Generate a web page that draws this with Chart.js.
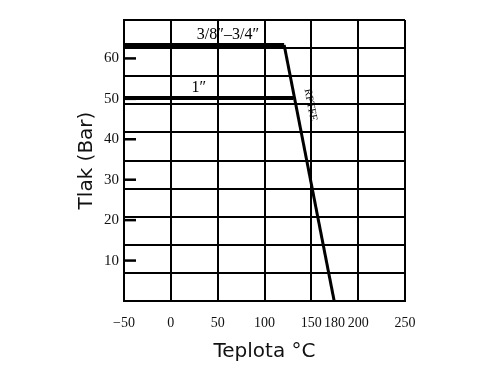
<!DOCTYPE html>
<html>
<head>
<meta charset="utf-8">
<script src="https://cdn.jsdelivr.net/npm/chart.js@4"></script>
<style>
  html, body { margin: 0; padding: 0; background: #fff; }
  #wrap { width: 500px; height: 375px; }
</style>
</head>
<body>
<div id="wrap"><canvas id="myChart" width="500" height="375"></canvas></div>
<script>
// values
let xTicks = [-50, 0, 50, 100, 150, 180, 200, 250];
let yTicks = [10, 20, 30, 40, 50, 60];
let yMax = 69.5;
let gridRows = 10;

let smallX = [-50, 121, 174.4];
let smallY = [63.3, 63.3, 0];
let bigX = [-50, 131];
let bigY = [50.2, 50.2];

let notes = [
  { text: "3/8″–3/4″", x: 61, y: 65.9, size: 16, rot: 0 },
  { text: "1″", x: 30, y: 52.8, size: 16, rot: 0 },
  { text: "RPTFE", x: 149, y: 48.5, size: 11, rot: 79 }
];

function points(xs, ys) {
  return xs.map((x, i) => ({ x: x, y: ys[i] }));
}

const serif = "'Liberation Serif', 'DejaVu Serif', serif";
const sans = "'DejaVu Sans', Verdana, sans-serif";

// short tick marks inside the box + the text on the lines
const extras = {
  id: "extras",
  afterDatasetsDraw(chart) {
    const ctx = chart.ctx;
    const xs = chart.scales.x;
    const ys = chart.scales.y;
    const left = chart.chartArea.left;
    ctx.save();
    ctx.strokeStyle = "#000";
    ctx.lineWidth = 2.5;
    yTicks.forEach(v => {
      let py = ys.getPixelForValue(v);
      ctx.beginPath();
      ctx.moveTo(left, py);
      ctx.lineTo(left + 12, py);
      ctx.stroke();
    });
    ctx.fillStyle = "#000";
    ctx.textAlign = "center";
    ctx.textBaseline = "middle";
    notes.forEach(n => {
      ctx.save();
      ctx.translate(xs.getPixelForValue(n.x), ys.getPixelForValue(n.y));
      ctx.rotate(n.rot * Math.PI / 180);
      ctx.font = n.size + "px " + serif;
      ctx.fillText(n.text, 0, 0);
      ctx.restore();
    });
    ctx.restore();
  }
};

new Chart(document.getElementById("myChart"), {
  type: "line",
  data: {
    datasets: [
      {
        label: "3/8-3/4",
        data: points(smallX, smallY),
        borderColor: "#000",
        borderWidth: 4,
        pointRadius: 0,
        tension: 0,
        segment: { borderWidth: c => c.p0DataIndex === 1 ? 3 : 4 }
      },
      {
        label: "1",
        data: points(bigX, bigY),
        borderColor: "#000",
        borderWidth: 4,
        pointRadius: 0,
        tension: 0
      }
    ]
  },
  options: {
    responsive: false,
    animation: false,
    layout: { padding: { top: 20, right: 95, left: 0, bottom: 0 } },
    plugins: { legend: { display: false }, tooltip: { enabled: false } },
    scales: {
      x: {
        type: "linear",
        min: -50,
        max: 250,
        afterBuildTicks: s => { s.ticks = xTicks.map(v => ({ value: v })); },
        afterFit: s => { s.height = 74; },
        grid: {
          color: c => (c.tick && c.tick.value === 180) ? "rgba(0,0,0,0)" : "#000",
          lineWidth: 2,
          drawTicks: false
        },
        border: { color: "#000", width: 2 },
        ticks: {
          padding: 14,
          color: "#111",
          font: { family: serif, size: 14 },
          // 180 sits a little left of its spot in the original
          callback: v => v < 0 ? "−" + Math.abs(v) : (v === 180 ? "180\u2002\u2009" : v)
        },
        title: {
          display: true,
          text: "Teplota °C",
          color: "#111",
          font: { family: sans, size: 20 },
          padding: { top: 0, bottom: 11 }
        }
      },
      y: {
        position: "left",
        min: 0,
        max: yMax,
        afterBuildTicks: s => { s.ticks = yTicks.map(v => ({ value: v })); },
        afterFit: s => { s.width = 124; },
        grid: { drawOnChartArea: false, drawTicks: false },
        border: { color: "#000", width: 2 },
        ticks: {
          padding: 5,
          color: "#111",
          font: { family: serif, size: 15 }
        },
        title: {
          display: true,
          text: "Tlak (Bar)",
          color: "#111",
          font: { family: sans, size: 20 },
          padding: { top: 75, bottom: 0 }
        }
      },
      yg: {
        position: "right",
        min: 0,
        max: yMax,
        afterBuildTicks: s => {
          let t = [];
          for (let i = 0; i <= gridRows; i++) t.push({ value: yMax * i / gridRows });
          s.ticks = t;
        },
        afterFit: s => { s.width = 0; },
        grid: { color: "#000", lineWidth: 2, drawTicks: false },
        border: { display: false },
        ticks: { display: false }
      }
    }
  },
  plugins: [extras]
});
</script>
</body>
</html>
